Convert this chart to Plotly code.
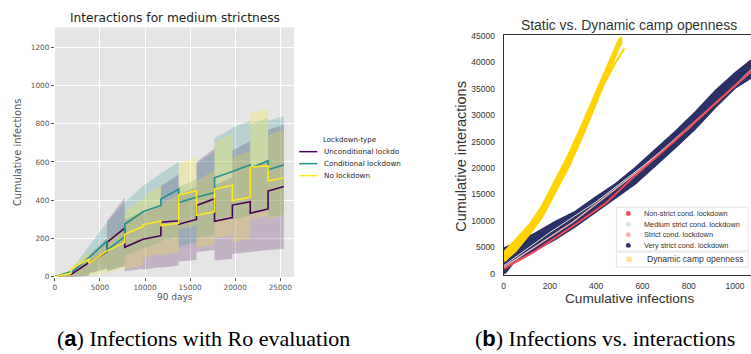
import plotly.graph_objects as go

W, H = 751, 354

# ---------------- left panel: cumulative infections per lockdown type ----------------
seg_bounds = [0, 1800, 3780, 5780, 7750, 9780, 11760, 13740, 15710, 17710, 19690, 21670, 23650, 25400]
lock_types = ["Unconditional lockdown", "Conditional lockdown", "No lockdown"]
lock_colors = ["#440154", "#21918c", "#fde725"]
band_rgba = ["rgba(68,1,84,0.22)", "rgba(33,145,140,0.22)", "rgba(253,231,37,0.25)"]

# mean value at start / end of each segment
uncond_mean_s = [0, 13, 72, 180, 155, 197, 285, 275, 373, 290, 375, 332, 448]
uncond_mean_e = [22, 75, 132, 255, 197, 215, 293, 300, 408, 310, 392, 355, 472]
uncond_lo_s = [0, 0, 20, 30, 30, 37, 48, 80, 130, 85, 120, 130, 140]
uncond_lo_e = [0, 5, 45, 55, 42, 51, 59, 88, 140, 95, 130, 140, 145]
uncond_hi_s = [0, 20, 110, 290, 300, 330, 475, 430, 600, 480, 660, 560, 770]
uncond_hi_e = [30, 110, 200, 415, 340, 370, 535, 470, 670, 520, 710, 610, 795]

cond_mean_s = [0, 22, 100, 139, 275, 340, 407, 388, 416, 518, 550, 568, 560]
cond_mean_e = [28, 100, 187, 210, 340, 373, 458, 416, 440, 550, 585, 607, 585]
cond_lo_s = [0, 0, 15, 30, 110, 150, 190, 160, 200, 300, 300, 330, 310]
cond_lo_e = [0, 10, 40, 60, 150, 180, 210, 180, 220, 320, 320, 350, 325]
cond_hi_s = [0, 35, 160, 285, 390, 475, 540, 470, 590, 725, 780, 800, 815]
cond_hi_e = [35, 160, 285, 390, 475, 540, 600, 510, 655, 775, 815, 830, 840]

nolock_mean_s = [0, 42, 70, 136, 222, 272, 268, 428, 322, 458, 399, 574, 501]
nolock_mean_e = [20, 93, 136, 180, 263, 292, 280, 450, 340, 479, 416, 580, 518]
nolock_lo_s = [0, 0, 5, 20, 40, 100, 110, 250, 150, 200, 180, 300, 300]
nolock_lo_e = [0, 10, 20, 45, 60, 120, 130, 265, 170, 220, 200, 320, 320]
nolock_hi_s = [0, 50, 110, 200, 340, 420, 380, 590, 500, 700, 620, 855, 740]
nolock_hi_e = [30, 130, 185, 250, 410, 475, 430, 630, 560, 750, 660, 880, 770]

left_series = [
    (uncond_mean_s, uncond_mean_e, uncond_lo_s, uncond_lo_e, uncond_hi_s, uncond_hi_e),
    (cond_mean_s, cond_mean_e, cond_lo_s, cond_lo_e, cond_hi_s, cond_hi_e),
    (nolock_mean_s, nolock_mean_e, nolock_lo_s, nolock_lo_e, nolock_hi_s, nolock_hi_e),
]

# ---------------- right panel: cumulative infections vs interactions ----------------
very_strict_x = [0, 9, 52, 138, 224, 310, 397, 483, 569, 655, 741, 828, 914, 1000, 1069]
very_strict_lo = [0, 200, 2600, 4400, 6500, 8900, 11600, 14300, 17000, 20400, 23800, 27400, 31400, 35100, 37000]
very_strict_hi = [4800, 5000, 5800, 7700, 9900, 11800, 14500, 17000, 20100, 23500, 26900, 30600, 34600, 38000, 40400]

nonstrict_x = [0, 138, 310, 440, 569, 741, 914, 1069]
nonstrict_y = [900, 4300, 9300, 13300, 18600, 25200, 32200, 38300]

strict_x = [0, 300, 600, 900, 1069]
strict_y = [1200, 9800, 20000, 31600, 38200]

medium_x = [0, 200, 400, 600, 800, 1069]
medium_y = [1500, 7800, 13600, 20300, 27400, 38600]

dynamic_x = [0, 6, 52, 110, 167, 224, 282, 339, 397, 454, 497, 508]
dynamic_lo = [2500, 2470, 4300, 7370, 10750, 15360, 20260, 25780, 31930, 38060, 42660, 43600]
dynamic_hi = [4100, 4300, 6440, 9200, 12890, 17800, 22720, 28240, 34070, 39900, 44190, 44700]
dynamic_run_x = [430, 475, 522]
dynamic_run_y = [35600, 39300, 42700]

right_labels = ["Non-strict cond. lockdown", "Medium strict cond. lockdown",
                "Strict cond. lockdown", "Very strict cond. lockdown"]
right_marker_colors = ["#f24b55", "#cde9df", "#f2b0b0", "#2e3468"]
dynamic_label = "Dynamic camp openness"

NAVY = "#2b3166"
RED = "#f04a54"
PINK = "#f0a8aa"
MINT = "#d9efe7"
GOLD = "#ffd400"


def px(x):
    return x / W


def py(y):
    return 1 - y / H


fig = go.Figure()

# bands
for (ms, me, ls, le, hs, he), col in zip(left_series, band_rgba):
    xs, lo, hi = [], [], []
    for k in range(len(ms)):
        xs += [seg_bounds[k], seg_bounds[k + 1]]
        lo += [ls[k], le[k]]
        hi += [hs[k], he[k]]
    fig.add_trace(go.Scatter(x=xs + xs[::-1], y=hi + lo[::-1], fill="toself", fillcolor=col,
                             mode="none", hoverinfo="skip", showlegend=False,
                             xaxis="x", yaxis="y"))
# mean lines
for (ms, me, ls, le, hs, he), col, name in zip(left_series, lock_colors, lock_types):
    xs, ys = [], []
    for k in range(len(ms)):
        xs += [seg_bounds[k], seg_bounds[k + 1]]
        ys += [ms[k], me[k]]
    fig.add_trace(go.Scatter(x=xs, y=ys, mode="lines", line=dict(color=col, width=1.6),
                             name=name, showlegend=False, xaxis="x", yaxis="y"))

# right panel
fig.add_trace(go.Scatter(x=very_strict_x + very_strict_x[::-1], y=very_strict_hi + very_strict_lo[::-1],
                         fill="toself", fillcolor=NAVY, mode="lines", line=dict(color=NAVY, width=1.5),
                         showlegend=False, xaxis="x2", yaxis="y2"))
fig.add_trace(go.Scatter(x=strict_x, y=strict_y, mode="lines", line=dict(color=PINK, width=1.5),
                         showlegend=False, xaxis="x2", yaxis="y2"))
fig.add_trace(go.Scatter(x=medium_x, y=medium_y, mode="lines", line=dict(color=MINT, width=1),
                         showlegend=False, xaxis="x2", yaxis="y2"))
fig.add_trace(go.Scatter(x=nonstrict_x, y=nonstrict_y, mode="lines", line=dict(color=RED, width=2),
                         showlegend=False, xaxis="x2", yaxis="y2"))
fig.add_trace(go.Scatter(x=dynamic_x + dynamic_x[::-1], y=dynamic_hi + dynamic_lo[::-1],
                         fill="toself", fillcolor=GOLD, mode="lines", line=dict(color=GOLD, width=2),
                         showlegend=False, xaxis="x2", yaxis="y2"))
fig.add_trace(go.Scatter(x=dynamic_run_x, y=dynamic_run_y, mode="lines", line=dict(color=GOLD, width=2),
                         showlegend=False, xaxis="x2", yaxis="y2"))

LEFT_FONT = "DejaVu Sans"
RIGHT_FONT = "Liberation Sans"

annotations = []
shapes = []


def note(x, y, text, font, xanchor="center", angle=0):
    annotations.append(dict(x=px(x), y=py(y), xref="paper", yref="paper", text=text,
                            showarrow=False, xanchor=xanchor, yanchor="middle",
                            textangle=angle, font=font))


# left legend
note(320, 140, "Lockdown-type", dict(family=LEFT_FONT, size=7, color="#222"), "left")
for i, (name, col) in enumerate(zip(lock_types, lock_colors)):
    yy = 151.5 + i * 12.3
    shapes.append(dict(type="line", xref="paper", yref="paper", x0=px(298), x1=px(316),
                       y0=py(yy), y1=py(yy), line=dict(color=col, width=1.5)))
    # the legend column is cut at the panel edge
    note(321, yy, name[:20], dict(family=LEFT_FONT, size=7.2, color="#222"), "left")

# left titles
note(173, 14, "Interactions for medium strictness", dict(family=LEFT_FONT, size=12.2, color="#222"))
note(173, 301, "90 days", dict(family=LEFT_FONT, size=9, color="#555"))
note(15, 152, "Cumulative infections", dict(family=LEFT_FONT, size=9.9, color="#555"), angle=-90)

# right titles
note(629, 22, "Static vs. Dynamic camp openness", dict(family=RIGHT_FONT, size=13.9, color="#333"))
note(629, 302, "Cumulative infections", dict(family=RIGHT_FONT, size=13.6, color="#333"))
note(460, 156, "Cumulative interactions", dict(family=RIGHT_FONT, size=14.5, color="#333"), angle=-90)

# right legend boxes
shapes.append(dict(type="rect", xref="paper", yref="paper", x0=px(616), x1=px(748), y0=py(208.5), y1=py(253.5),
                   fillcolor="white", line=dict(color="#dddddd", width=0.8), layer="above"))
shapes.append(dict(type="rect", xref="paper", yref="paper", x0=px(616), x1=px(748), y0=py(254.5), y1=py(270),
                   fillcolor="white", line=dict(color="#dddddd", width=0.8), layer="above"))
for i, (lab, col) in enumerate(zip(right_labels, right_marker_colors)):
    yy = 215 + i * 10.9
    shapes.append(dict(type="circle", xref="paper", yref="paper", x0=px(625.5), x1=px(630.5),
                       y0=py(yy - 2.5), y1=py(yy + 2.5), fillcolor=col, line=dict(width=0), layer="above"))
    note(641.5, yy, lab, dict(family=RIGHT_FONT, size=7.3, color="#333"), "left")
shapes.append(dict(type="circle", xref="paper", yref="paper", x0=px(626), x1=px(632),
                   y0=py(259), y1=py(265), fillcolor="#fde68c", line=dict(width=0), layer="above"))
note(645, 262, dynamic_label, dict(family=RIGHT_FONT, size=8.6, color="#333"), "left")

# captions
cap_font = dict(family="Liberation Serif", size=22, color="black")
bold_sans = '<span style="font-family:Liberation Sans;font-weight:bold">'
note(202, 343, "(" + bold_sans + "a</span>) Infections with Ro evaluation", cap_font)
note(605, 343, "(" + bold_sans + "b</span>) Infections vs. interactions", cap_font)

fig.update_layout(
    width=W, height=H, margin=dict(l=0, r=0, t=0, b=0),
    paper_bgcolor="white", plot_bgcolor="white", showlegend=False,
    xaxis=dict(domain=[px(53), px(293)], range=[0, 26550], tickvals=[0, 5000, 10000, 15000, 20000, 25000],
               tickformat="d",
               showgrid=True, gridcolor="white", gridwidth=1, zeroline=False, showline=False,
               ticks="outside", ticklen=3, tickcolor="#555", tickwidth=1,
               tickfont=dict(family=LEFT_FONT, size=7.3, color="#555"), anchor="y"),
    yaxis=dict(domain=[py(280), py(24)], range=[0, 1303], tickvals=[0, 200, 400, 600, 800, 1000, 1200],
               tickformat="d",
               showgrid=True, gridcolor="white", gridwidth=1, zeroline=False, showline=False,
               ticks="outside", ticklen=3, tickcolor="#555", tickwidth=1,
               tickfont=dict(family=LEFT_FONT, size=7.3, color="#555"), anchor="x"),
    xaxis2=dict(domain=[px(503), 1.0], range=[0, 1069], tickvals=[0, 200, 400, 600, 800, 1000],
                tickformat="d",
                showgrid=False, zeroline=False, showline=True, linecolor="#333", linewidth=1.2, mirror=True,
                ticks="", ticklabelstandoff=2,
                tickfont=dict(family=RIGHT_FONT, size=8.5, color="#333"), anchor="y2"),
    yaxis2=dict(domain=[py(278.3), py(32)], range=[-295, 45130],
                tickvals=[0, 5000, 10000, 15000, 20000, 25000, 30000, 35000, 40000, 45000],
                tickformat="d",
                showgrid=False, zeroline=False, showline=True, linecolor="#333", linewidth=1.2, mirror=False,
                ticks="", ticklabelstandoff=6,
                tickfont=dict(family=RIGHT_FONT, size=8.5, color="#333"), anchor="x2"),
    annotations=annotations, shapes=shapes,
)

# grey ggplot-style background for the left panel only
fig.add_shape(type="rect", xref="x domain", yref="y domain", x0=0, x1=1, y0=0, y1=1,
              fillcolor="#e5e5e5", line=dict(width=0), layer="below")

fig.write_html("out.html")
